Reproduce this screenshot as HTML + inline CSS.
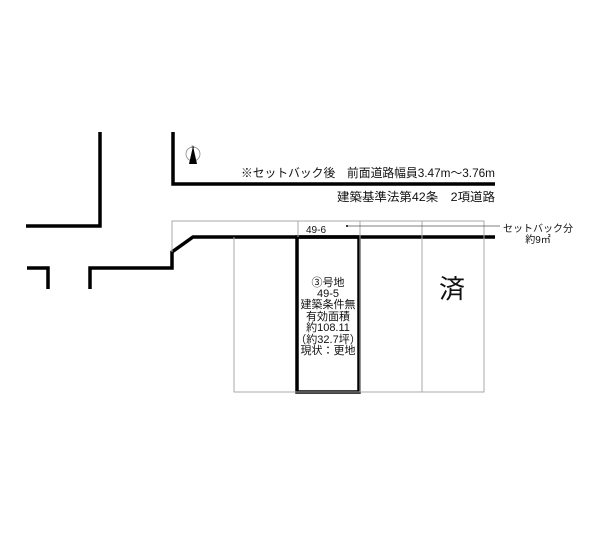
<!DOCTYPE html>
<html><head><meta charset="utf-8"><style>
html,body{margin:0;padding:0;background:#fff;}
svg{display:block;}
text{font-family:"Liberation Sans","Noto Sans CJK JP",sans-serif;fill:#111;}
</style></head><body>
<svg width="600" height="556" viewBox="0 0 600 556" xmlns="http://www.w3.org/2000/svg">
<g fill="none" stroke="#000" stroke-width="3.5">
<polyline points="100,132 100,226 26,226"/>
<polyline points="173,132 173,184 495,184"/>
<polyline points="495,237 193,237 172,252 172,268 90,268 90,289"/>
<polyline points="27,268 48,268 48,289"/>
<rect x="297" y="237" width="62" height="155"/>
</g>
<g fill="none" stroke="#aaa" stroke-width="1">
<polyline points="172,252 172,221 484,221 484,392 234,392 234,237"/>
<line x1="298" y1="221" x2="298" y2="237"/>
<line x1="360" y1="221" x2="360" y2="237"/>
<line x1="422" y1="221" x2="422" y2="392"/>
<line x1="360" y1="237" x2="360" y2="392"/>
</g>
<line x1="347" y1="226" x2="500" y2="226" stroke="#555" stroke-width="0.8"/>
<circle cx="347" cy="226" r="1" fill="#000"/>
<circle cx="193" cy="154" r="7" fill="none" stroke="#888" stroke-width="0.8"/>
<polygon points="193,146 189,164 197,164" fill="#000"/>
<text x="193" y="148" font-size="4" text-anchor="middle">N</text>
<text x="495" y="177" font-size="12" text-anchor="end" textLength="254" lengthAdjust="spacingAndGlyphs">※セットバック後　前面道路幅員3.47m～3.76m</text>
<text x="495" y="201" font-size="12" text-anchor="end" textLength="158" lengthAdjust="spacingAndGlyphs">建築基準法第42条　2項道路</text>
<text x="316" y="233" font-size="10" text-anchor="middle">49-6</text>
<text x="538" y="232" font-size="10" text-anchor="middle">セットバック分</text>
<text x="538" y="243" font-size="10" text-anchor="middle">約9㎡</text>
<g font-size="11" text-anchor="middle">
<text x="328" y="286">③号地</text>
<text x="328" y="297">49-5</text>
<text x="328" y="308">建築条件無</text>
<text x="328" y="320">有効面積</text>
<text x="328" y="331">約108.11</text>
<text x="328" y="343">（約32.7坪）</text>
<text x="328" y="354">現状：更地</text>
</g>
<text x="452" y="298" font-size="26" text-anchor="middle">済</text>
</svg>
</body></html>
